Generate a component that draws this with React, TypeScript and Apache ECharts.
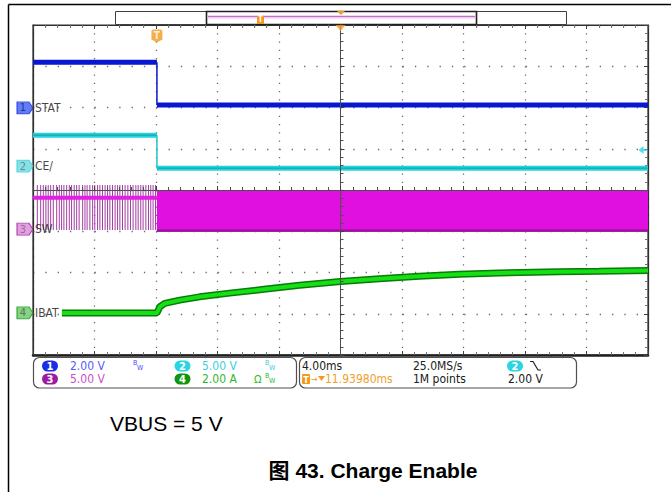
import React, { useEffect, useRef } from 'react';
import * as echarts from 'echarts';

const FONT = "'Liberation Sans Narrow','DejaVu Sans Condensed','Liberation Sans',Arial,sans-serif";
const CAPTION_FONT = "'Liberation Sans',Arial,'Noto Sans CJK SC',sans-serif";

// horizontal: time in ms (4 ms/div, 10 div); vertical: screen divisions (8 div)
const xMin = -20;
const xMax = 20;
const xStep = 4;
const yMin = -4;
const yMax = 4;
const yStep = 1;

const chNames = ['STAT', 'CE/', 'SW', 'IBAT'];
const chNumbers = ['1', '2', '3', '4'];
const chPill = ['#1a2ee6', '#2ad4e0', '#a01aa0', '#0e960e'];
const chTagFill = ['#3b5cf0', '#6fd6de', '#d78ad7', '#6cc56c'];
const chTagText = ['#14207a', '#3e7f86', '#9a4f9a', '#2f6f2f'];
const chGround = [1.99, 0.58, -0.95, -2.98];
const chScaleText = ['2.00 V', '5.00 V', '5.00 V', '2.00 A'];
const chScaleColor = ['#5a5aff', '#3ccfe0', '#c850c8', '#2eb82e'];

const trigTime = -11.94;
const trigLevel = 0.97;

const statTime = [-20, -11.94, -11.94, 20];
const statLevel = [3.1, 3.1, 2.06, 2.06];

const ceTime = [-20, -11.94, -11.94, 20];
const ceLevel = [1.33, 1.33, 0.53, 0.53];

const swBandTime = [-20, -11.94];
const swBandLevel = [-0.19, -0.19];
const swSpikeTime = [
  -19.72, -19.5, -19.33, -19.16, -19.01, -18.85, -18.68, -18.46, -18.29, -18.14,
  -17.99, -17.81, -17.64, -17.49, -17.32, -17.16, -17.0, -16.77, -16.62, -16.48,
  -16.3, -16.12, -15.98, -15.8, -15.65, -15.48, -15.31, -15.15, -15.0, -14.83,
  -14.66, -14.5, -14.35, -14.18, -14.01, -13.83, -13.66, -13.49, -13.31, -13.16,
  -12.99, -12.84, -12.66, -12.49, -12.34, -12.19, -12.03,
];
const swSpikeTop = 0.12;
const swSpikeBottom = -0.97;
const swBlockTime = [-11.94, 20];
const swBlockLevel = [-0.01, -1.02];

const ibatTime = [-18.12, -11.94, -11.75, -11.43, -10.45, -9.16, -7.21, -5.26, -2.66, 0, 2.53, 5.13, 7.73, 10.32, 14.22, 16.82, 20];
const ibatLevel = [-2.98, -2.98, -2.83, -2.75, -2.67, -2.59, -2.5, -2.42, -2.31, -2.22, -2.15, -2.09, -2.04, -2.01, -1.98, -1.97, -1.95];

const timebaseText = '4.00ms';
const sampleRateText = '25.0MS/s';
const trigPosText = '11.93980ms';
const recordText = '1M points';
const trigLevelText = '2.00 V';
const noteText = 'VBUS = 5 V';
const captionText = '图 43. Charge Enable';

function stepData(times: number[], levels: number[]) {
  const out: any[] = [];
  for (let i = 0; i < times.length; i++) {
    if (i > 0 && times[i] === times[i - 1]) out.push([times[i], '-']);
    out.push([times[i], levels[i]]);
  }
  return out;
}
function edgeData(times: number[], levels: number[]) {
  const out: any[] = [];
  for (let i = 1; i < times.length; i++) {
    if (times[i] === times[i - 1]) out.push([times[i - 1], levels[i - 1]], [times[i], levels[i]]);
  }
  return out;
}
function pairs(times: number[], levels: number[]) {
  return times.map((t, i) => [t, levels[i]]);
}

const lineBase = { type: 'line', showSymbol: false, symbol: 'none', silent: true, xAxisIndex: 0, yAxisIndex: 0 };

export default function App() {
  const ref = useRef<HTMLDivElement>(null);
  useEffect(() => {
    document.body.style.margin = '0';
    const chart = echarts.init(ref.current!, undefined, { renderer: 'svg' });

    const tickAxis = (extra: any) => ({
      type: 'value',
      axisLabel: { show: false },
      axisTick: { show: true, inside: true, length: 4, lineStyle: { color: '#404040' } },
      minorTick: { show: true, splitNumber: 5, length: 3, lineStyle: { color: '#707070' } },
      splitLine: { show: false },
      ...extra,
    });

    const pill = (cx: number, cy: number, fill: string, txt: string) => [
      { type: 'rect', shape: { x: cx - 8, y: cy - 5.5, width: 16, height: 11, r: 5.5 }, style: { fill } },
      { type: 'text', x: cx, y: cy + 0.5, style: { text: txt, fill: '#ffffff', fontSize: 11, fontWeight: 'bold', fontFamily: FONT, align: 'center', verticalAlign: 'middle' } },
    ];
    const txt = (x: number, y: number, text: string, fill: string, size = 12, extra: any = {}) => ({
      type: 'text', x, y, style: { text, fill, fontSize: size, fontFamily: FONT, verticalAlign: 'middle', ...extra },
    });
    const bw = (x: number, y: number, fill: string) => [
      txt(x, y - 3, 'B', fill, 7),
      txt(x + 4, y + 2, 'W', fill, 7),
    ];

    const r1 = 366;
    const r2 = 379;

    const graphic: any[] = [
      // page frame
      { type: 'line', shape: { x1: 8.5, y1: 4.5, x2: 671, y2: 4.5 }, style: { stroke: '#000', lineWidth: 1.5 } },
      { type: 'line', shape: { x1: 8.5, y1: 4.5, x2: 8.5, y2: 492 }, style: { stroke: '#000', lineWidth: 1.5 } },
      // record view bar
      { type: 'rect', shape: { x: 115.5, y: 11.5, width: 451, height: 13 }, style: { fill: '#fff', stroke: '#404040', lineWidth: 1 } },
      { type: 'rect', shape: { x: 206.5, y: 11.5, width: 270, height: 13 }, style: { fill: '#fff', stroke: '#202020', lineWidth: 1.6 } },
      { type: 'line', shape: { x1: 208, y1: 16.5, x2: 475, y2: 16.5 }, style: { stroke: '#c86ec8', lineWidth: 1.5 } },
      { type: 'line', shape: { x1: 208, y1: 18, x2: 475, y2: 18 }, style: { stroke: '#ecc4ec', lineWidth: 1 } },
      { type: 'rect', shape: { x: 257, y: 15, width: 7, height: 9, r: [2, 2, 0, 0] }, style: { fill: '#f39a1e' } },
      { type: 'text', x: 260.5, y: 19.5, style: { text: 'T', fill: '#fff', fontSize: 8, fontWeight: 'bold', fontFamily: FONT, align: 'center', verticalAlign: 'middle' } },
      { type: 'polygon', shape: { points: [[337, 11], [345, 11], [341, 15]] }, style: { fill: '#f39a1e' } },
      // info panels
      { type: 'rect', shape: { x: 33.5, y: 357.5, width: 263, height: 30.5, r: 6 }, style: { fill: '#fff', stroke: '#505050', lineWidth: 1.2 } },
      { type: 'rect', shape: { x: 299.5, y: 357.5, width: 277, height: 30.5, r: 6 }, style: { fill: '#fff', stroke: '#505050', lineWidth: 1.2 } },
      ...pill(50, r1, chPill[0], chNumbers[0]),
      txt(70, r1, chScaleText[0], chScaleColor[0]),
      ...bw(133, r1, '#4a4aff'),
      ...pill(182.5, r1, chPill[1], chNumbers[1]),
      txt(202, r1, chScaleText[1], chScaleColor[1]),
      ...bw(265, r1, '#3ccfe0'),
      ...pill(50, r2, chPill[2], chNumbers[2]),
      txt(70, r2, chScaleText[2], chScaleColor[2]),
      ...pill(182.5, r2, chPill[3], chNumbers[3]),
      txt(202, r2, chScaleText[3], chScaleColor[3]),
      txt(254, r2, 'Ω', '#2eb82e', 11),
      ...bw(265, r2, '#2eb82e'),
      txt(302, r1, timebaseText, '#202020'),
      txt(413, r1, sampleRateText, '#202020'),
      ...pill(515, r1, chPill[1], chNumbers[1]),
      { type: 'polyline', shape: { points: [[530, 361.5], [533, 361.5], [538, 370], [541, 370]] }, style: { stroke: '#202020', lineWidth: 1.2, fill: null } },
      { type: 'rect', shape: { x: 302, y: r2 - 5, width: 8, height: 10, r: 1 }, style: { fill: '#f39a1e' } },
      { type: 'text', x: 306, y: r2 + 0.5, style: { text: 'T', fill: '#fff', fontSize: 9, fontWeight: 'bold', fontFamily: FONT, align: 'center', verticalAlign: 'middle' } },
      txt(311, r2, '→', '#f39a1e', 9),
      { type: 'polygon', shape: { points: [[318, r2 - 3], [325, r2 - 3], [321.5, r2 + 2]] }, style: { fill: '#f39a1e' } },
      txt(325, r2, trigPosText, '#f0a030'),
      txt(413, r2, recordText, '#202020'),
      txt(508, r2, trigLevelText, '#202020'),
      // caption texts
      { type: 'text', x: 110, y: 423, style: { text: noteText, fill: '#000', fontSize: 21, fontFamily: CAPTION_FONT, verticalAlign: 'middle' } },
      { type: 'text', x: 373, y: 470, style: { text: captionText, fill: '#000', fontSize: 21, fontWeight: 'bold', fontFamily: CAPTION_FONT, align: 'center', verticalAlign: 'middle' } },
    ];

    const option: any = {
      animation: false,
      backgroundColor: '#ffffff',
      grid: { left: 33, right: 23, top: 25, bottom: 137, show: true, borderColor: '#303030', borderWidth: 1.2, containLabel: false },
      xAxis: [
        tickAxis({
          min: xMin, max: xMax, interval: xStep, position: 'bottom',
          axisLine: { show: true, onZero: false, lineStyle: { color: '#202020', width: 2.5 } },
          splitLine: { show: true, lineStyle: { color: '#6a6a6a', width: 1.3, type: [1.3, 6.95] } },
        }),
        tickAxis({
          min: xMin, max: xMax, interval: xStep, position: 'top',
          axisLine: { show: true, onZero: false, lineStyle: { color: '#303030', width: 1.2 } },
        }),
        tickAxis({
          min: xMin, max: xMax, interval: xStep, position: 'bottom', z: 5,
          axisLine: { show: true, onZero: true, onZeroAxisIndex: 0, lineStyle: { color: '#505050', width: 1 } },
          axisTick: { show: true, inside: true, length: 4, lineStyle: { color: '#404040' } },
          minorTick: { show: true, splitNumber: 5, length: 3, lineStyle: { color: '#505050' } },
        }),
      ],
      yAxis: [
        tickAxis({
          min: yMin, max: yMax, interval: yStep, position: 'left',
          axisLine: { show: true, onZero: false, lineStyle: { color: '#303030', width: 1.2 } },
          axisTick: { show: false },
          minorTick: { show: false },
          splitLine: { show: true, lineStyle: { color: '#6a6a6a', width: 1.3, type: [1.3, 11.02] } },
        }),
        tickAxis({
          min: yMin, max: yMax, interval: yStep, position: 'right',
          axisLine: { show: true, onZero: false, lineStyle: { color: '#303030', width: 1.2 } },
        }),
        tickAxis({
          min: yMin, max: yMax, interval: yStep, position: 'left', z: 5,
          axisLine: { show: true, onZero: true, onZeroAxisIndex: 0, lineStyle: { color: '#505050', width: 1 } },
          minorTick: { show: true, splitNumber: 5, length: 3, lineStyle: { color: '#505050' } },
        }),
      ],
      series: [
        // CH3 SW
        {
          type: 'custom', silent: true, xAxisIndex: 0, yAxisIndex: 0, z: 2,
          data: [[swBlockTime[0], swBlockTime[1], swBlockLevel[0], swBlockLevel[1]]],
          encode: { x: [0, 1], y: [2, 3] },
          renderItem: (p: any, api: any) => {
            const a = api.coord([api.value(0), api.value(2)]);
            const b = api.coord([api.value(1), api.value(3)]);
            return { type: 'rect', shape: { x: a[0], y: a[1], width: b[0] - a[0], height: b[1] - a[1] }, style: { fill: '#e010e0' } };
          },
        },
        { ...lineBase, z: 3, data: pairs(swBlockTime, [swBlockLevel[1] + 0.04, swBlockLevel[1] + 0.04]), lineStyle: { color: '#8a1a8a', width: 2 } },
        {
          type: 'custom', silent: true, xAxisIndex: 0, yAxisIndex: 0, z: 2,
          data: swSpikeTime.map((t) => [t, swSpikeTop, swSpikeBottom]),
          encode: { x: 0, y: [1, 2] },
          renderItem: (p: any, api: any) => {
            const a = api.coord([api.value(0), api.value(1)]);
            const b = api.coord([api.value(0), api.value(2)]);
            return { type: 'line', shape: { x1: a[0], y1: a[1], x2: b[0], y2: b[1] }, style: { stroke: '#a23ca2', lineWidth: 1 } };
          },
        },
        { ...lineBase, z: 3, data: pairs(swBandTime, swBandLevel), lineStyle: { color: '#e020e0', width: 4 } },
        // CH1 STAT
        { ...lineBase, z: 3, data: stepData(statTime, statLevel), lineStyle: { color: '#0818d0', width: 5 } },
        { ...lineBase, z: 3, data: edgeData(statTime, statLevel), lineStyle: { color: '#0818d0', width: 1.5 } },
        // CH2 CE/
        { ...lineBase, z: 3, data: stepData(ceTime, ceLevel), lineStyle: { color: '#22d4dc', width: 5 } },
        { ...lineBase, z: 3, data: stepData(ceTime, ceLevel), lineStyle: { color: '#1a9aa0', width: 1 } },
        { ...lineBase, z: 3, data: edgeData(ceTime, ceLevel), lineStyle: { color: '#22c4cc', width: 1.5 } },
        // CH4 IBAT
        { ...lineBase, z: 3, data: pairs(ibatTime, ibatLevel), lineStyle: { color: '#0a7a0a', width: 7 } },
        { ...lineBase, z: 3, data: pairs(ibatTime, ibatLevel), lineStyle: { color: '#14e014', width: 4 } },
        // channel names
        {
          type: 'scatter', silent: true, z: 6, symbolSize: 0, clip: false,
          data: chGround.map((g, i) => ({ value: [xMin, g], label: { formatter: chNames[i] } })),
          label: { show: true, position: 'right', distance: 2, color: '#101010', fontSize: 12, fontFamily: FONT },
        },
        // ground tags
        {
          type: 'scatter', silent: true, z: 6, clip: false,
          symbol: 'path://M0,0 L12,0 L16,6 L12,12 L0,12 Z', symbolSize: [16, 12], symbolOffset: [-8, 0],
          data: chGround.map((g, i) => ({
            value: [xMin, g],
            itemStyle: { color: chTagFill[i], borderColor: chPill[i], borderWidth: 1 },
            label: { formatter: chNumbers[i], color: chTagText[i] },
          })),
          label: { show: true, position: 'inside', offset: [-2, 0], fontSize: 11, fontFamily: FONT },
        },
        // trigger markers
        {
          type: 'scatter', silent: true, z: 6, clip: false,
          symbol: 'path://M2,0 L10,0 Q12,0 12,2 L12,10 L6,13 L0,10 L0,2 Q0,0 2,0 Z', symbolSize: [11, 13], symbolOffset: [0, 11],
          itemStyle: { color: '#f39a1e' },
          data: [[trigTime, yMax]],
          label: { show: true, position: 'inside', formatter: 'T', color: '#fff', fontSize: 10, fontWeight: 'bold', fontFamily: FONT, offset: [0, -1] },
        },
        {
          type: 'scatter', silent: true, z: 6, clip: false,
          symbol: 'triangle', symbolRotate: 180, symbolSize: [10, 6], symbolOffset: [0, 3],
          itemStyle: { color: '#f39a1e' },
          data: [[0, yMax]],
        },
        {
          type: 'scatter', silent: true, z: 6, clip: false,
          symbol: 'path://M0,4 L5,0 L5,3 L9,3 L9,5 L5,5 L5,8 Z', symbolSize: [9, 8], symbolOffset: [-5, 0],
          itemStyle: { color: '#2ad4e0' },
          data: [[xMax, trigLevel]],
        },
      ],
      graphic,
    };
    chart.setOption(option);
    return () => chart.dispose();
  }, []);
  return <div ref={ref} style={{ width: 671, height: 492 }} />;
}
